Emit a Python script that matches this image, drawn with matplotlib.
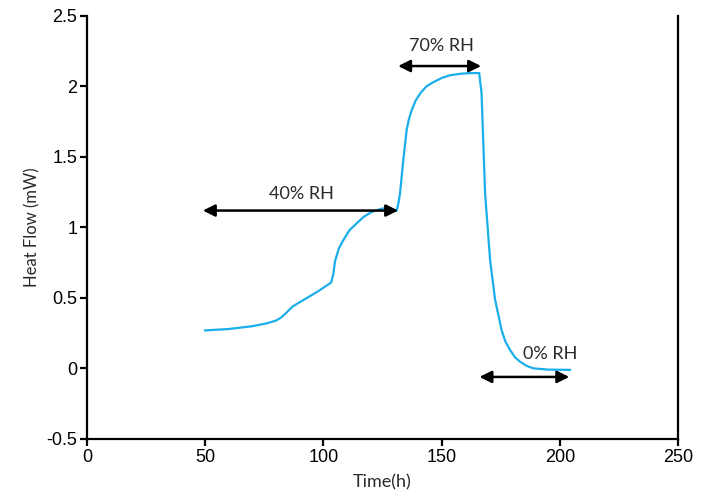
import matplotlib
matplotlib.use('Agg')
import matplotlib.pyplot as plt

# Heat flow trace
time_h = [50, 60, 70, 76, 80, 82, 84, 87, 93, 98, 103.3, 104.2, 104.9, 106.5, 108.4,
          111, 114.1, 117, 120.4, 123, 125.2, 128, 131, 131.7, 132.4, 133.8, 135.2,
          136.2, 137.3, 139, 140.9, 143.5, 146.4, 150, 153.6, 158, 162, 165.9,
          166.9, 168.4, 170.5, 172.6, 175.4, 177, 179, 181, 183.2, 186, 188.8,
          195, 204.3]
heat_mw = [0.27, 0.28, 0.30, 0.32, 0.34, 0.36, 0.39, 0.44, 0.50, 0.55, 0.61, 0.67,
           0.76, 0.85, 0.91, 0.98, 1.03, 1.075, 1.11, 1.125, 1.135, 1.135, 1.12, 1.17,
           1.24, 1.48, 1.69, 1.77, 1.83, 1.90, 1.95, 2.00, 2.03, 2.06, 2.08, 2.09,
           2.095, 2.095, 1.95, 1.24, 0.77, 0.49, 0.27, 0.19, 0.13, 0.08, 0.048, 0.018,
           0.001, -0.008, -0.01]

# humidity phases: label, start, end, arrow level, label position
phase_labels = ['40% RH', '70% RH', '0% RH']
phase_start = [49, 131.6, 166]
phase_end = [131.6, 166.7, 204]
phase_level = [1.12, 2.145, -0.06]
label_x = [90.5, 150, 196]
label_y = [1.24, 2.29, 0.10]

tick_font = 'Liberation Sans'
text_font = ['Lato', 'DejaVu Sans']

fig = plt.figure(figsize=(7.04, 5.01), dpi=100)
ax = fig.add_axes([0.1236, 0.1238, 0.8395, 0.8443])

ax.plot(time_h, heat_mw, color='#1aaeea', lw=1.6)

for lbl, x0, x1, yv, tx, ty in zip(phase_labels, phase_start, phase_end,
                                   phase_level, label_x, label_y):
    ax.annotate('', xy=(x1, yv), xytext=(x0, yv),
                arrowprops=dict(arrowstyle='<|-|>', color='black', lw=1.8,
                                mutation_scale=18, shrinkA=0, shrinkB=0))
    ax.text(tx, ty, lbl, ha='center', va='center', fontsize=13,
            family=text_font, color='#2a2a2a')

ax.set_xlim(0, 250)
ax.set_ylim(-0.5, 2.5)
ax.set_xticks([0, 50, 100, 150, 200, 250])
ax.set_yticks([-0.5, 0, 0.5, 1, 1.5, 2, 2.5])
ax.set_yticklabels(['-0.5', '0', '0.5', '1', '1.5', '2', '2.5'])
for t in ax.get_xticklabels() + ax.get_yticklabels():
    t.set_family(tick_font)
    t.set_fontsize(13)

ax.spines['top'].set_visible(False)
for s in ['left', 'bottom', 'right']:
    ax.spines[s].set_linewidth(1.6)
ax.tick_params(direction='out', length=5, width=1.6, pad=2)

ax.set_xlabel('Time(h)', fontsize=13, family=text_font, labelpad=6, color='#2a2a2a')
ax.set_ylabel('Heat Flow (mW)', fontsize=12, family=text_font, labelpad=4,
              color='#2a2a2a')

fig.savefig('out.png', dpi=100)
